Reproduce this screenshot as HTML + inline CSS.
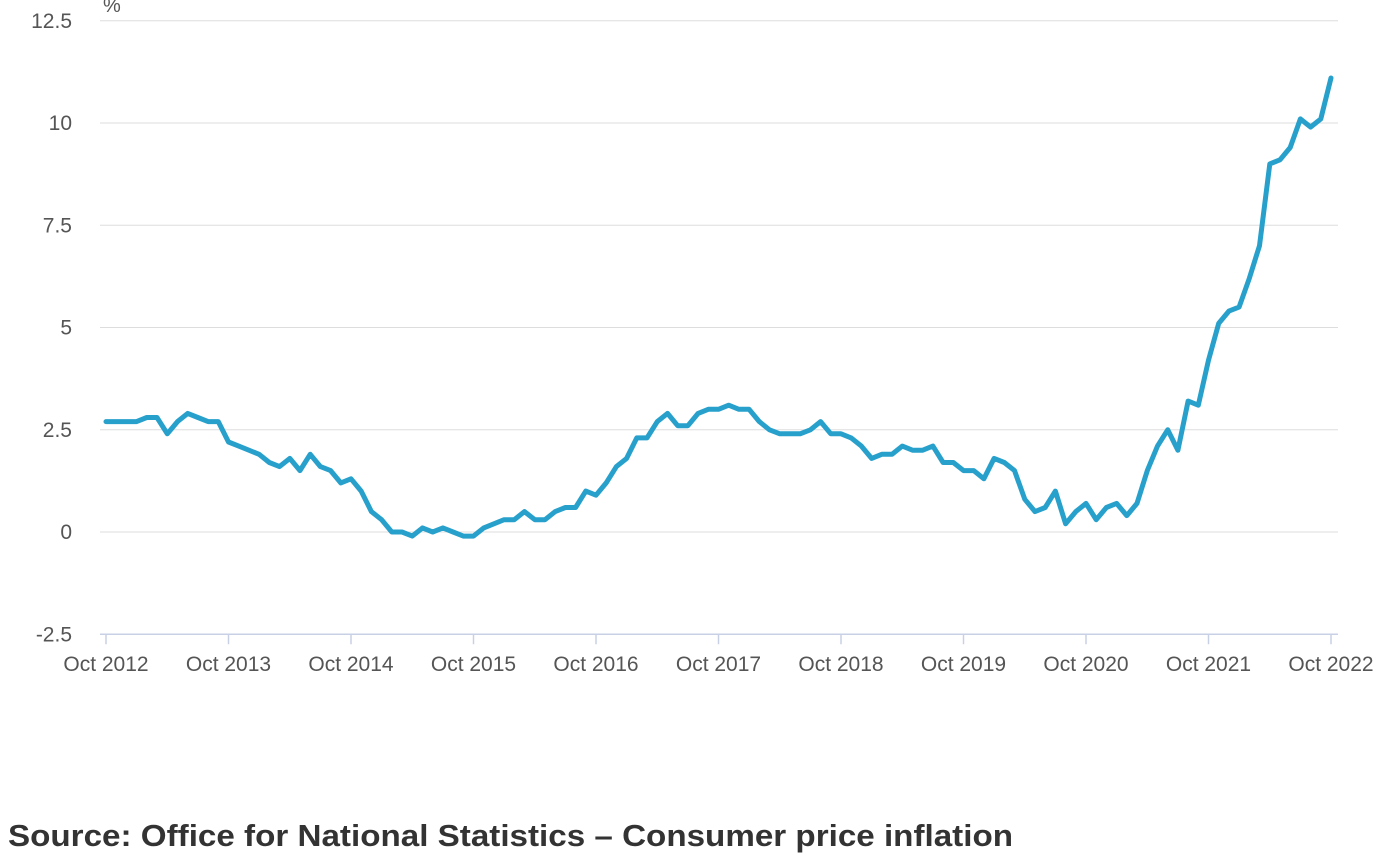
<!DOCTYPE html>
<html><head><meta charset="utf-8">
<style>
html,body{margin:0;padding:0;background:#fff;width:1400px;height:866px;overflow:hidden}
svg{display:block}
text{font-family:"Liberation Sans",sans-serif}
</style></head>
<body>
<svg id="chart" width="1400" height="866">
<g id="grid"></g><g id="axes"></g><g id="series"></g>
<text x="103" y="12" font-size="20" fill="#555">%</text>
<text x="8" y="846" font-size="31" font-weight="bold" fill="#333" textLength="1005" lengthAdjust="spacingAndGlyphs">Source: Office for National Statistics – Consumer price inflation</text>
</svg>
<script>
const values = [2.7,2.7,2.7,
2.7,2.8,2.8,2.4,2.7,2.9,2.8,2.7,2.7,2.2,2.1,2.0,
1.9,1.7,1.6,1.8,1.5,1.9,1.6,1.5,1.2,1.3,1.0,0.5,
0.3,0.0,0.0,-0.1,0.1,0.0,0.1,0.0,-0.1,-0.1,0.1,0.2,
0.3,0.3,0.5,0.3,0.3,0.5,0.6,0.6,1.0,0.9,1.2,1.6,
1.8,2.3,2.3,2.7,2.9,2.6,2.6,2.9,3.0,3.0,3.1,3.0,
3.0,2.7,2.5,2.4,2.4,2.4,2.5,2.7,2.4,2.4,2.3,2.1,
1.8,1.9,1.9,2.1,2.0,2.0,2.1,1.7,1.7,1.5,1.5,1.3,
1.8,1.7,1.5,0.8,0.5,0.6,1.0,0.2,0.5,0.7,0.3,0.6,
0.7,0.4,0.7,1.5,2.1,2.5,2.0,3.2,3.1,4.2,5.1,5.4,
5.5,6.2,7.0,9.0,9.1,9.4,10.1,9.9,10.1,11.1];
const yTicks = [-2.5,0,2.5,5,7.5,10,12.5];
const yTickLabels = ["-2.5","0","2.5","5","7.5","10","12.5"];
const xTickLabels = ["Oct 2012","Oct 2013","Oct 2014","Oct 2015","Oct 2016","Oct 2017","Oct 2018","Oct 2019","Oct 2020","Oct 2021","Oct 2022"];

const NS="http://www.w3.org/2000/svg";
const X0=106,X1=1331,Y0=532,PU=40.9;
const xs=i=>X0+(X1-X0)*i/120;
const ys=v=>Y0-v*PU;
function mk(tag,attrs,parent){const e=document.createElementNS(NS,tag);for(const k in attrs)e.setAttribute(k,attrs[k]);parent.appendChild(e);return e;}
const grid=document.getElementById('grid'),axes=document.getElementById('axes'),ser=document.getElementById('series');
yTicks.forEach((t,i)=>{
  if(t!==-2.5){const l=mk('line',{x1:100,x2:1338,y1:ys(t),y2:ys(t),stroke:'#ddd','stroke-width':1},grid);
  
  }
  const tx=mk('text',{x:72,y:ys(t)+7,'text-anchor':'end','font-size':21,fill:'#555'},axes);
  tx.textContent=yTickLabels[i];
  
  
});
const ax=mk('line',{x1:100,x2:1338,y1:ys(-2.5),y2:ys(-2.5),stroke:'#c8d0e6','stroke-width':1.5},axes);


xTickLabels.forEach((lab,i)=>{
  const x=xs(i*12);
  const tk=mk('line',{x1:x,x2:x,y1:ys(-2.5),y2:ys(-2.5)+10,stroke:'#c8d0e6','stroke-width':1.5},axes);
  
  
  const tx=mk('text',{x:x,y:671,'text-anchor':'middle','font-size':21,fill:'#555'},axes);
  tx.textContent=lab;
  
  
});
const d=values.map((v,i)=>(i?'L':'M')+xs(i).toFixed(1)+','+ys(v).toFixed(1)).join('');
const p=mk('path',{d:d,fill:'none',stroke:'#27a0cc','stroke-width':5,'stroke-linejoin':'round','stroke-linecap':'round'},ser);


</script>
</body></html>
